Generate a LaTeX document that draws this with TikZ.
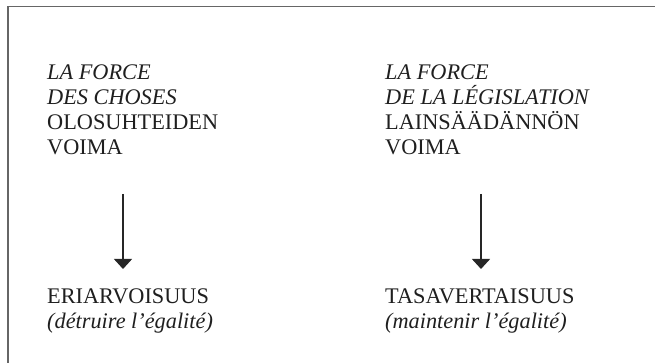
\documentclass[tikz,border=0pt]{standalone}
\usepackage{fontspec}
\setmainfont{Liberation Serif}
\usepackage{xcolor}
\usepackage{tikz}
\usetikzlibrary{positioning,arrows.meta}

\begin{document}
\begin{tikzpicture}[x=1pt,y=1pt,
	txt/.style={anchor=base west, align=left, inner sep=0pt, text=black!88,
		font=\fontsize{22.3}{25}\selectfont},
	push/.style={line width=1.3pt, draw=black!85, -{Triangle[width=18pt,length=10pt]}},
	frame/.style={line width=1.6pt, draw=black!60}]
	\useasboundingbox (0,0) rectangle (655,363);
	\draw[frame] (8,0) -- (8,356.5) -- (655,356.5);
	\node[txt] (forceChoses) at (47,208) {\textit{LA FORCE}\\ \textit{DES CHOSES}\\ OLOSUHTEIDEN\\ VOIMA};
	\node[txt] (forceLoi) at (385,208) {\textit{LA FORCE}\\ \textit{DE LA LÉGISLATION}\\ LAINSÄÄDÄNNÖN\\ VOIMA};
	\node[txt] (inegalite) at (47,34) {ERIARVOISUUS\\ \textit{(détruire l’égalité)}};
	\node[txt] (egalite) at (385,34) {TASAVERTAISUUS\\ \textit{(maintenir l’égalité)}};
	\coordinate (chosesEnd) at (123,169);
	\coordinate (inegaliteEnd) at (123,94);
	\coordinate (loiEnd) at (481,169);
	\coordinate (egaliteEnd) at (481,94);
	\draw[push] (chosesEnd) -- (inegaliteEnd);
	\draw[push] (loiEnd) -- (egaliteEnd);
\end{tikzpicture}
\end{document}
